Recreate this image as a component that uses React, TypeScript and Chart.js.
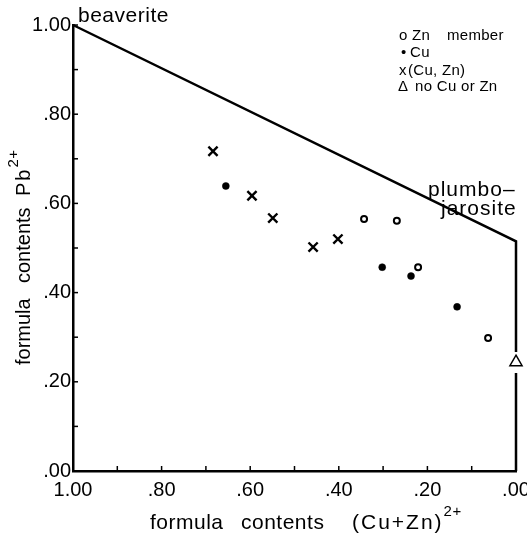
import React, { useEffect, useRef } from "react";
import { Chart, registerables } from "chart.js";

Chart.register(...registerables);

// Boundary of the beaverite – plumbojarosite field (gap around the triangle)
const boundaryX = [1.0, 0.0, 0.0, 0.0, 0.0, 0.0];
const boundaryY: (number | null)[] = [1.0, 0.515, 0.267, null, 0.22, 0.0];

// (Cu, Zn) members — crosses
const cuZnX = [0.684, 0.596, 0.549, 0.458, 0.402];
const cuZnY = [0.717, 0.617, 0.567, 0.502, 0.52];

// Cu members — filled dots
const cuX = [0.655, 0.302, 0.237, 0.133];
const cuY = [0.639, 0.457, 0.437, 0.368];

// Zn members — open circles
const znX = [0.343, 0.269, 0.221, 0.063];
const znY = [0.565, 0.561, 0.457, 0.298];

// no Cu or Zn — triangle
const noneX = [0.0];
const noneY = [0.244];

const tickValues = [0, 0.1, 0.2, 0.3, 0.4, 0.5, 0.6, 0.7, 0.8, 0.9, 1.0];

const FONT = "'Liberation Sans', Arial, sans-serif";

const pts = (xs: number[], ys: (number | null)[]) =>
  xs.map((x, i) => ({ x, y: ys[i] }));

const fmt = (v: number) => {
  const s = Number(v).toFixed(2);
  return s.startsWith("0") ? s.slice(1) : s;
};

const decorPlugin = {
  id: "decor",
  afterDraw(chart: any) {
    const ctx = chart.ctx as any;
    const xs = chart.scales.x;
    const ys = chart.scales.y;
    const left = xs.left;
    const bottom = ys.bottom;
    ctx.save();
    // inward ticks
    ctx.strokeStyle = "#000";
    ctx.lineWidth = 1.5;
    tickValues.forEach((v) => {
      const py = ys.getPixelForValue(v);
      ctx.beginPath();
      ctx.moveTo(left, py);
      ctx.lineTo(left + 5, py);
      ctx.stroke();
      const px = xs.getPixelForValue(v);
      ctx.beginPath();
      ctx.moveTo(px, bottom);
      ctx.lineTo(px, bottom - 5);
      ctx.stroke();
    });

    ctx.fillStyle = "#000";
    ctx.textBaseline = "alphabetic";
    ctx.textAlign = "left";
    // annotations
    ctx.font = `21px ${FONT}`;
    ctx.letterSpacing = "0.5px";
    ctx.fillText("beaverite", 78, 22);
    ctx.letterSpacing = "1px";
    ctx.fillText("plumbo\u2013", 428, 196);
    ctx.fillText("jarosite", 441, 215);

    // legend
    ctx.letterSpacing = "0.3px";
    ctx.font = `15px ${FONT}`;
    ctx.fillText("o", 399, 40);
    ctx.fillText("Zn", 412, 40);
    ctx.fillText("member", 447, 40);
    ctx.fillText("\u2022", 401, 57);
    ctx.fillText("Cu", 410, 57);
    ctx.fillText("x", 399, 75);
    ctx.fillText("(Cu, Zn)", 408, 75);
    ctx.fillText("\u0394", 398, 91);
    ctx.fillText("no Cu or Zn", 415, 91);

    // x title with superscript
    const small = `15px ${FONT}`;
    ctx.font = `21px ${FONT}`;
    ctx.letterSpacing = "0.5px";
    ctx.fillText("formula", 150, 529);
    ctx.fillText("contents", 241, 529);
    ctx.letterSpacing = "2px";
    ctx.fillText("(Cu+Zn)", 352, 529);
    const wc = ctx.measureText("(Cu+Zn)").width;
    ctx.letterSpacing = "0.5px";
    ctx.font = small;
    ctx.fillText("2+", 352 + wc, 516);

    // y title rotated (reads bottom to top)
    ctx.translate(30, 0);
    ctx.rotate(-Math.PI / 2);
    ctx.font = `20px ${FONT}`;
    ctx.letterSpacing = "0px";
    ctx.fillText("formula", -365, 0);
    ctx.fillText("contents", -283, 0);
    ctx.letterSpacing = "2px";
    ctx.fillText("Pb", -196, 0);
    const wp = ctx.measureText("Pb").width;
    ctx.letterSpacing = "0.5px";
    ctx.font = small;
    ctx.fillText("2+", -196 + wp, -12);
    ctx.restore();
  },
};

export default function App() {
  const ref = useRef<HTMLCanvasElement>(null);
  useEffect(() => {
    if (!ref.current) return;
    const chart = new Chart(ref.current, {
      type: "scatter",
      data: {
        datasets: [
          {
            type: "line",
            label: "boundary",
            data: pts(boundaryX, boundaryY) as any,
            borderColor: "#000",
            borderWidth: 2.5,
            pointRadius: 0,
            fill: false,
            spanGaps: false,
            clip: false as any,
          },
          {
            label: "(Cu, Zn)",
            data: pts(cuZnX, cuZnY),
            pointStyle: "crossRot",
            pointRadius: 6.5,
            borderColor: "#000",
            borderWidth: 2.4,
          },
          {
            label: "Cu",
            data: pts(cuX, cuY),
            pointStyle: "circle",
            pointRadius: 3.5,
            backgroundColor: "#000",
            borderColor: "#000",
            borderWidth: 0.5,
          },
          {
            label: "Zn member",
            data: pts(znX, znY),
            pointStyle: "circle",
            pointRadius: 3,
            backgroundColor: "#fff",
            borderColor: "#000",
            borderWidth: 2,
          },
          {
            label: "no Cu or Zn",
            data: pts(noneX, noneY),
            pointStyle: "triangle",
            pointRadius: 7,
            backgroundColor: "#fff",
            borderColor: "#000",
            borderWidth: 1.5,
            clip: false as any,
          },
        ],
      },
      options: {
        animation: false,
        responsive: false,
        events: [],
        layout: { padding: { left: 0, right: 11, top: 25, bottom: 0 } },
        plugins: {
          legend: { display: false },
          tooltip: { enabled: false },
        },
        scales: {
          x: {
            type: "linear",
            min: 0,
            max: 1,
            reverse: true,
            afterFit: (s: any) => {
              s.height = 64;
              s.paddingLeft = 0;
              s.paddingRight = 0;
            },
            grid: { display: false, drawTicks: false },
            border: { display: true, color: "#000", width: 2.5 },
            ticks: {
              stepSize: 0.2,
              padding: 7,
              color: "#000",
              font: { family: FONT, size: 20 },
              maxRotation: 0,
              callback: (v: any) => fmt(v),
            },
          },
          y: {
            type: "linear",
            min: 0,
            max: 1,
            afterFit: (s: any) => {
              s.width = 73;
              s.paddingTop = 0;
              s.paddingBottom = 0;
            },
            grid: { display: false, drawTicks: false },
            border: { display: true, color: "#000", width: 2.5 },
            ticks: {
              stepSize: 0.2,
              padding: 2,
              color: "#000",
              font: { family: FONT, size: 20 },
              callback: (v: any) => fmt(v),
            },
          },
        },
      },
      plugins: [decorPlugin],
    });
    return () => chart.destroy();
  }, []);
  return (
    <div style={{ position: "absolute", left: 0, top: 0, width: 527, height: 535, background: "#fff" }}>
      <canvas ref={ref} width={527} height={535} style={{ width: 527, height: 535 }} />
    </div>
  );
}
